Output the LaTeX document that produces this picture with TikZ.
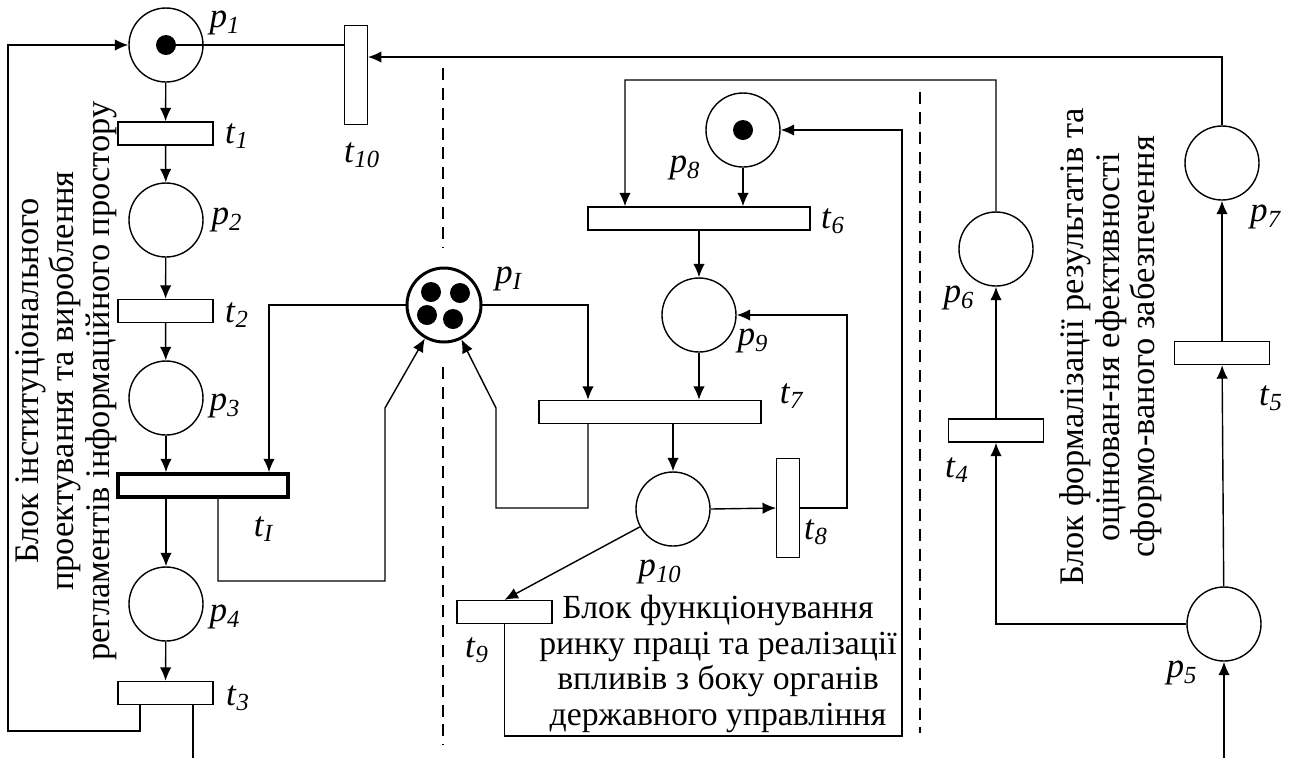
\documentclass[tikz,border=0pt]{standalone}
\usepackage{fontspec}
\setmainfont{Liberation Serif}
\usetikzlibrary{arrows.meta,positioning,calc}

\newcommand{\pl}[1]{\textit{p}\textsubscript{\textit{#1}}}
\newcommand{\tl}[1]{\textit{t}\textsubscript{\textit{#1}}}

\begin{document}
\begin{tikzpicture}[x=0.2mm, y=-0.2mm,
  place/.style={circle, draw, line width=0.8pt, minimum size=1.48cm, inner sep=0pt},
  bigplace/.style={place, line width=1.7pt},
  tok/.style={circle, fill=black, minimum size=0.4cm, inner sep=0pt},
  trh/.style={rectangle, draw, line width=0.8pt, minimum width=1.9cm,
              minimum height=0.46cm, inner sep=0pt},
  trw/.style={trh, minimum width=4.44cm},
  trv/.style={trh, minimum width=0.45cm, minimum height=1.97cm},
  lbl/.style={font=\fontsize{20}{22}\selectfont, inner sep=0pt},
  blk/.style={font=\fontsize{19.6}{20.2}\selectfont, align=center, inner sep=0pt},
  arc/.style={-{Latex[length=0.27cm,width=0.23cm]}, line width=0.8pt},
  ln/.style={line width=0.8pt},
  sep/.style={line width=0.6pt, dash pattern=on 6.8pt off 4.5pt}
]
\useasboundingbox (0,0) rectangle (1293,758);

% separators
\draw[sep] (443,68) -- (443,248);
\draw[sep] (443,367) -- (443,745);
\draw[sep] (920,92) -- (920,733);

% left block
\node[place] (p1) at (166,45) {};
\node[tok] (k1) at (p1) {};
\node[trh] (t1) at (165.5,133.5) {};
\node[place] (p2) at (166,220) {};
\node[trh] (t2) at (165.5,311) {};
\node[place] (p3) at (166,398) {};
\node[trh, minimum width=3.4cm, line width=2pt] (tI) at (203,485.5) {};
\node[place] (p4) at (166,604) {};
\node[trh] (t3) at (165.5,693) {};
\node[trv] (t10) at (356,75) {};
\coordinate (out3) at (193,758);

% shared place
\node[bigplace] (pI) at (444,305) {};
\node[tok] (kI1) at (431,292) {};
\node[tok] (kI2) at (460,293) {};
\node[tok] (kI3) at (427,315) {};
\node[tok] (kI4) at (453,319) {};

% middle block
\node[place] (p8) at (743,130) {};
\node[tok] (k8) at (p8) {};
\node[trw] (t6) at (699,218.5) {};
\node[place] (p9) at (699,315) {};
\node[trw] (t7) at (650,412) {};
\node[place] (p10) at (673,509) {};
\node[trv] (t8) at (788,508) {};
\node[trh] (t9) at (504.5,612) {};

% right block
\node[place] (p6) at (996,249) {};
\node[trh] (t4) at (996,430.5) {};
\node[place] (p5) at (1224,624) {};
\node[trh] (t5) at (1222,353) {};
\node[place] (p7) at (1222,163) {};
\coordinate (in5) at (1224,758);

% labels
\node[lbl] (lp1) at (225,23) {\pl{1}};
\node[lbl] (lt1) at (237,136) {\tl{1}};
\node[lbl] (lp2) at (227,220) {\pl{2}};
\node[lbl] (lt2) at (237,315) {\tl{2}};
\node[lbl] (lp3) at (225,406) {\pl{3}};
\node[lbl] (ltI) at (264,529) {\tl{I}};
\node[lbl] (lp4) at (225,617) {\pl{4}};
\node[lbl] (lt3) at (238,698) {\tl{3}};
\node[lbl] (lt10) at (362,155) {\tl{10}};
\node[lbl] (lpI) at (509,279) {\pl{I}};
\node[lbl] (lp8) at (685,168) {\pl{8}};
\node[lbl] (lt6) at (833,221) {\tl{6}};
\node[lbl] (lp9) at (753,341) {\pl{9}};
\node[lbl] (lt7) at (792,396) {\tl{7}};
\node[lbl] (lt8) at (816,532) {\tl{8}};
\node[lbl] (lp10) at (660,572) {\pl{10}};
\node[lbl] (lt9) at (477,650) {\tl{9}};
\node[lbl] (lp6) at (959,298) {\pl{6}};
\node[lbl] (lt4) at (957,470) {\tl{4}};
\node[lbl] (lp5) at (1182,673) {\pl{5}};
\node[lbl] (lt5) at (1271,398) {\tl{5}};
\node[lbl] (lp7) at (1266,217) {\pl{7}};

% block captions
\node[blk, rotate=90] (blkA) at (66,381)
  {Блок інституціонального\\проектування та вироблення\\регламентів інформаційного простору};
\node[blk, font=\fontsize{19.2}{20.2}\selectfont] (blkB) at (718,664)
  {Блок функціонування\\ринку праці та реалізації\\впливів з боку органів\\державного управління};
\node[blk, rotate=90] (blkC) at (1111,347)
  {Блок формалізації результатів та\\оцінюван-ня ефективності\\сформо-ваного забезпечення};

% left arcs
\draw[arc] (p1) -- (t1);
\draw[arc] (t1) -- (p2);
\draw[arc] (p2) -- (t2);
\draw[arc] (t2) -- (p3);
\draw[arc] (p3) -- (p3 |- tI.north);
\draw[arc] (tI.south -| p4) -- (p4);
\draw[arc] (p4) -- (t3);
\draw[arc] ([xshift=-0.51cm]t3.south) |- (8,731) |- (p1.west);
\draw[ln] (t3.south -| out3) -- (out3);
\draw[arc] (t10.west |- p1) -- (k1.west);
\draw[arc] (p7.north) |- ([yshift=0.36cm]t10.east);

% shared resource
\draw[arc] (pI.west) -| ([xshift=1.32cm]tI.north);
\draw[arc] ([xshift=0.3cm]tI.south) |- (385,581) -- (385,408) -- (pI);
\draw[arc] (pI.east) -| ([xshift=-1.24cm]t7.north);
\draw[arc] ([xshift=-1.24cm]t7.south) |- (496,508) -- (496,408) -- (pI);

% middle arcs
\draw[arc] (p8) -- (p8 |- t6.north);
\draw[arc] (p6.north) |- (625,80) -- ([xshift=-1.48cm]t6.north);
\draw[arc] (t6) -- (p9);
\draw[arc] (p9) -- (p9 |- t7.north);
\draw[arc] (t7.south -| p10) -- (p10);
\draw[arc] (p10.east) -- (t8.west);
\draw[arc] (t8.east) -| (847,315) -- (p9.east);
\draw[arc] (p10) -- (t9.north);
\draw[arc] (t9.south) |- (902,736) |- (p8.east);

% right arcs
\draw[arc] (t4) -- (p6);
\draw[arc] (p5.west) -| (t4.south);
\draw[arc] (in5) -- (p5.south);
\draw[arc] (p5) -- (t5);
\draw[arc] (t5) -- (p7);
\end{tikzpicture}
\end{document}
